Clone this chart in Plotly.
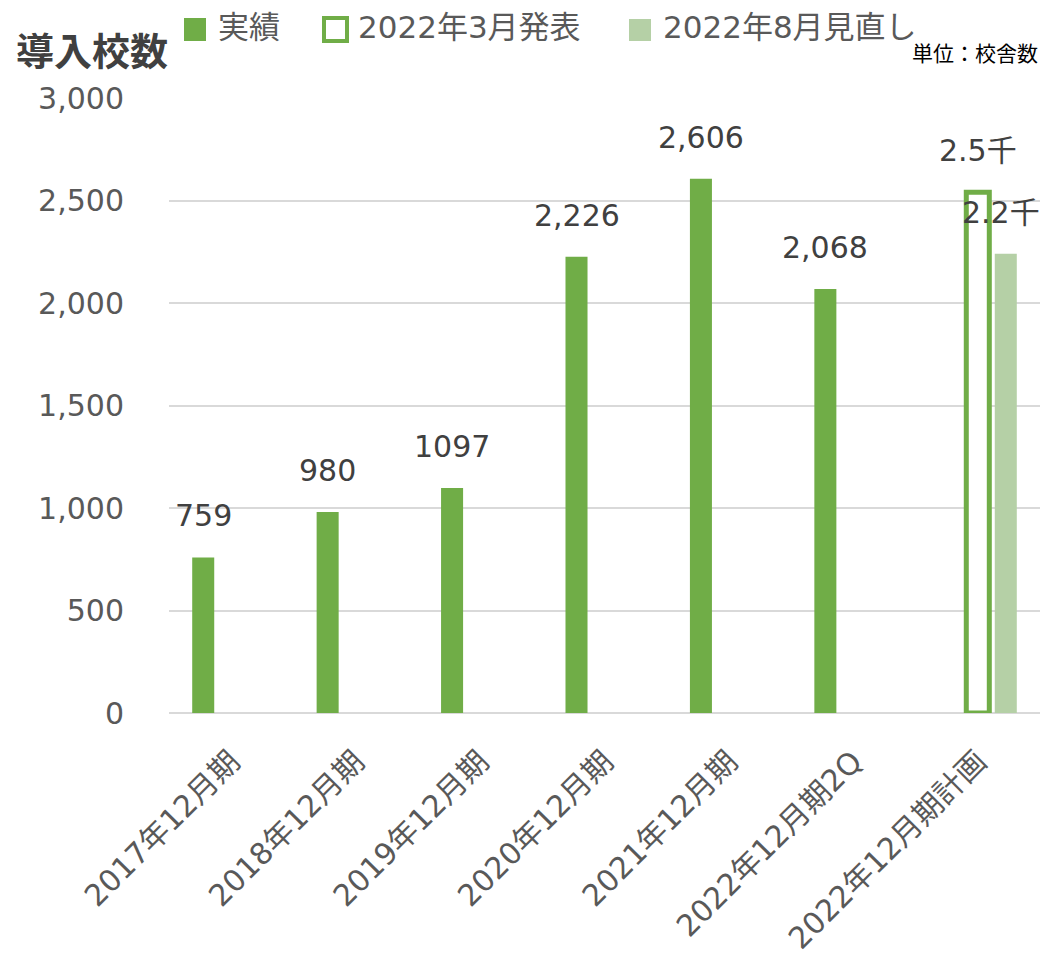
import plotly.graph_objects as go

# --- data -------------------------------------------------------------
categories = ["2017年12月期", "2018年12月期", "2019年12月期", "2020年12月期",
              "2021年12月期", "2022年12月期2Q", "2022年12月期計画"]
series_names = ["実績", "2022年3月発表", "2022年8月見直し"]

actual = [759, 980, 1097, 2226, 2606, 2068, None]
actual_labels = ["759", "980", "1097", "2,226", "2,606", "2,068", ""]
plan_march = [None, None, None, None, None, None, 2540]
plan_august = [None, None, None, None, None, None, 2240]

y_ticks = [0, 500, 1000, 1500, 2000, 2500, 3000]
y_tick_labels = ["0", "500", "1,000", "1,500", "2,000", "2,500", "3,000"]

title_text = "導入校数"
unit_text = "単位：校舎数"

# --- style ------------------------------------------------------------
GREEN = "#70ad47"
LIGHT = "#b5d0a6"
GRID = "#d9d9d9"
TXT = "#595959"
LBL = "#404040"
FONT = "DejaVu Sans, Noto Sans CJK JP"
CJK = "Noto Sans CJK JP"

W, H = 1043, 961
ML, MR, MT, MB = 169, 3, 98, 248
PW, PH = W - ML - MR, H - MT - MB


def px_x(px):
    return (px - ML) / PW


def px_y(py):
    return 1 - (py - MT) / PH


SLOT = 0.225      # distance between bar slots inside a category
BW = 0.177        # bar width (category units)
xs = list(range(len(categories)))
slots = [-SLOT, 0.0, SLOT]


def thousands(v):
    return f"{v / 1000:.1f}千"


fig = go.Figure()

fig.add_trace(go.Bar(
    name=series_names[0], x=xs, y=actual, width=BW, offset=slots[0] - BW / 2,
    marker=dict(color=GREEN, line=dict(width=0)), showlegend=False,
    hoverinfo="y"))
fig.add_trace(go.Bar(
    name=series_names[1], x=xs, y=plan_march, width=BW + 0.008,
    offset=slots[1] - (BW + 0.008) / 2,
    marker=dict(color="white", line=dict(color=GREEN, width=5)), showlegend=False,
    hoverinfo="y"))
fig.add_trace(go.Bar(
    name=series_names[2], x=xs, y=plan_august, width=BW, offset=slots[2] - BW / 2,
    marker=dict(color=LIGHT, line=dict(width=0)), showlegend=False,
    hoverinfo="y"))

# value labels above bars
label_font = dict(family=FONT, size=30, color=LBL)
annotations = []
for i, (v, t) in enumerate(zip(actual, actual_labels)):
    if v is not None:
        annotations.append(dict(x=xs[i] + slots[0], y=v, text=t, showarrow=False,
                                xanchor="center", yanchor="bottom", yshift=22,
                                font=label_font))
# plan labels; the right-most one is nudged left to stay inside the page
for series, k, nudge in ((plan_march, 1, 0), (plan_august, 2, -5)):
    for i, v in enumerate(series):
        if v is not None:
            annotations.append(dict(x=xs[i] + slots[k], y=v, text=thousands(v),
                                    showarrow=False, xanchor="center",
                                    yanchor="bottom", yshift=22, xshift=nudge,
                                    font=label_font))

# unit note
annotations.append(dict(xref="paper", yref="paper", x=1, y=px_y(52), text=unit_text,
                        showarrow=False, xanchor="right", yanchor="middle",
                        font=dict(family=CJK, size=21, color="#000000")))

# legend built from shapes and text
shapes = []
legend_items = [
    (184, 206, 18, 41, dict(fillcolor=GREEN, line=dict(width=0)), 216),
    (324, 347, 18, 41, dict(fillcolor="white", line=dict(color=GREEN, width=4)), 356),
    (629, 651, 19, 41, dict(fillcolor=LIGHT, line=dict(width=0)), 661),
]
for name, (x0, x1, y0, y1, style, tx) in zip(series_names, legend_items):
    shapes.append(dict(type="rect", xref="paper", yref="paper",
                       x0=px_x(x0), x1=px_x(x1), y0=px_y(y1), y1=px_y(y0), **style))
    annotations.append(dict(xref="paper", yref="paper", x=px_x(tx), y=px_y(27),
                            text=name, showarrow=False, xanchor="left",
                            yanchor="middle",
                            font=dict(family=FONT, size=31, color=TXT)))

fig.update_layout(
    width=W, height=H,
    margin=dict(l=ML, r=MR, t=MT, b=MB, pad=0),
    paper_bgcolor="white", plot_bgcolor="white",
    barmode="overlay",
    font=dict(family=FONT, color=TXT),
    title=dict(text=f"<b>{title_text}</b>", x=16 / W, xanchor="left",
               xref="container", yref="container", y=1 - 52 / H, yanchor="middle",
               font=dict(family=CJK, size=38, color=LBL)),
    xaxis=dict(range=[-0.5, len(categories) - 0.5], tickmode="array",
               tickvals=xs, ticktext=categories, tickangle=-45,
               tickfont=dict(family=FONT, size=30, color=TXT),
               showgrid=False, zeroline=False, showline=False, automargin=False,
               ticks="", ticklabelstandoff=24, fixedrange=True),
    yaxis=dict(range=[0, 3000], tickmode="array", tickvals=y_ticks,
               ticktext=y_tick_labels, automargin=False,
               tickfont=dict(family=FONT, size=30, color=TXT),
               showgrid=True, gridcolor=GRID, gridwidth=2,
               zeroline=True, zerolinecolor=GRID, zerolinewidth=2,
               showline=False, ticks="", ticklabelstandoff=44, fixedrange=True),
    annotations=annotations,
    shapes=shapes,
    showlegend=False,
)

fig.write_html("out.html")
